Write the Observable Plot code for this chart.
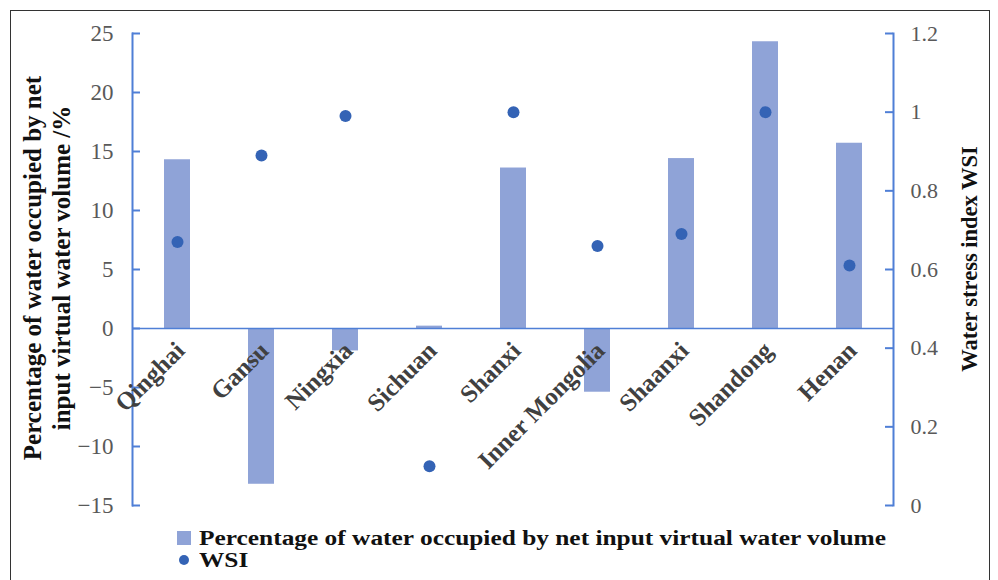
<!DOCTYPE html>
<html><head><meta charset="utf-8">
<script src="https://cdn.jsdelivr.net/npm/d3@7"></script>
<script src="https://cdn.jsdelivr.net/npm/@observablehq/plot@0.6"></script>
<style>
body{margin:0;background:#fff;}
#wrap{position:relative;width:998px;height:580px;overflow:hidden;font-family:"Liberation Serif","Times New Roman",serif;background:#fff;}
#border{position:absolute;left:10px;top:10px;width:978px;height:600px;border:1.5px solid #333;}
#chart{position:absolute;left:0;top:0;}
.ytitle{position:absolute;font-weight:bold;color:#111;white-space:nowrap;text-align:center;transform:translate(-50%,-50%) rotate(-90deg);}
.legend{position:absolute;left:177px;top:527px;font-weight:bold;font-size:20px;color:#111;line-height:22px;}
.row{display:flex;align-items:center;height:22px;}
.sw{width:14px;height:14px;background:#8fa3d7;margin-right:8px;flex:none;}
.dt{width:10px;height:10px;border-radius:50%;background:#3463b5;margin:0 10px 0 2px;flex:none;}
.lt{display:inline-block;transform-origin:0 50%;}
</style></head><body>
<div id="wrap">
<div id="border"></div>
<div id="chart"></div>
<div class="ytitle" style="left:47px;top:268px;font-size:25px;line-height:29px">Percentage of water occupied by net<br>input virtual water volume /%</div>
<div class="ytitle" style="left:970px;top:259px;font-size:22.5px;line-height:24px">Water stress index WSI</div>
<div class="legend">
<div class="row"><div class="sw"></div><span class="lt" id="lt1">Percentage of water occupied by net input virtual water volume</span></div>
<div class="row"><div class="dt"></div><span class="lt" id="lt2">WSI</span></div>
</div>
</div>
<script>
const categories = ["Qinghai","Gansu","Ningxia","Sichuan","Shanxi","Inner Mongolia","Shaanxi","Shandong","Henan"];
const percentValues = [14.3,-13.2,-1.9,0.2,13.6,-5.4,14.4,24.3,15.7];
const wsiValues = [0.67,0.89,0.99,0.10,1.00,0.66,0.69,1.00,0.61];
const leftTicks = [-15,-10,-5,0,5,10,15,20,25];
const rightTicks = [0,0.2,0.4,0.6,0.8,1,1.2];
const rightTickLabels = ["0","0.2","0.4","0.6","0.8","1","1.2"];

const leftMin = -15, leftMax = 25, rightMax = 1.2;
const toLeft = w => leftMin + w * (leftMax - leftMin) / rightMax;

const data = categories.map((c, i) => ({cat: c, pct: percentValues[i], wsi: wsiValues[i]}));
const axisColor = "#4f7fd6";
const W = 998, mL = 132, mR = 105;
const frameW = W - mL - mR;

const chart = Plot.plot({
  width: W, height: 520,
  marginLeft: mL, marginRight: mR, marginTop: 33, marginBottom: 15,
  style: {fontFamily: '"Liberation Serif","Times New Roman",serif', background: "transparent"},
  x: {domain: categories, padding: 0, axis: null},
  y: {domain: [leftMin, leftMax]},
  marks: [
    Plot.barY(data, {x: "cat", y: "pct", fill: "#8fa3d7", insetLeft: 29, insetRight: 29}),
    Plot.ruleY([0], {stroke: axisColor, strokeWidth: 1.5}),
    Plot.frame({anchor: "left", stroke: axisColor, strokeWidth: 2}),
    Plot.frame({anchor: "right", stroke: axisColor, strokeWidth: 2}),
    Plot.tickY(leftTicks, {y: d => d, stroke: axisColor, strokeWidth: 2, insetRight: frameW - 8}),
    Plot.tickY(rightTicks, {y: d => toLeft(d), stroke: axisColor, strokeWidth: 2, insetLeft: frameW - 8}),
    Plot.axisY(leftTicks, {anchor: "left", tickSize: 0, tickPadding: 19, fontSize: 23, fill: "#595959", label: null}),
    Plot.axisY(rightTicks.map(toLeft), {anchor: "right", tickSize: 0, tickPadding: 17, fontSize: 22, fill: "#595959", label: null,
      tickFormat: d => rightTickLabels[rightTicks.findIndex(w => Math.abs(toLeft(w) - d) < 1e-9)]}),
    Plot.dot(data, {x: "cat", y: d => toLeft(d.wsi), r: 6, fill: "#3463b5"}),
    Plot.text(data, {x: "cat", y: 0, text: "cat", rotate: -45, textAnchor: "end", dy: 18, dx: 3, fontSize: 25, fontWeight: "bold", fill: "#404040"})
  ]
});
document.getElementById("chart").appendChild(chart);
// stretch legend text horizontally to the reference's width
const lt1 = document.getElementById("lt1"), lt2 = document.getElementById("lt2");
const s = 687 / lt1.getBoundingClientRect().width;
lt1.style.transform = `scaleX(${s})`;
lt2.style.transform = `scaleX(${s})`;
</script>
</body></html>
